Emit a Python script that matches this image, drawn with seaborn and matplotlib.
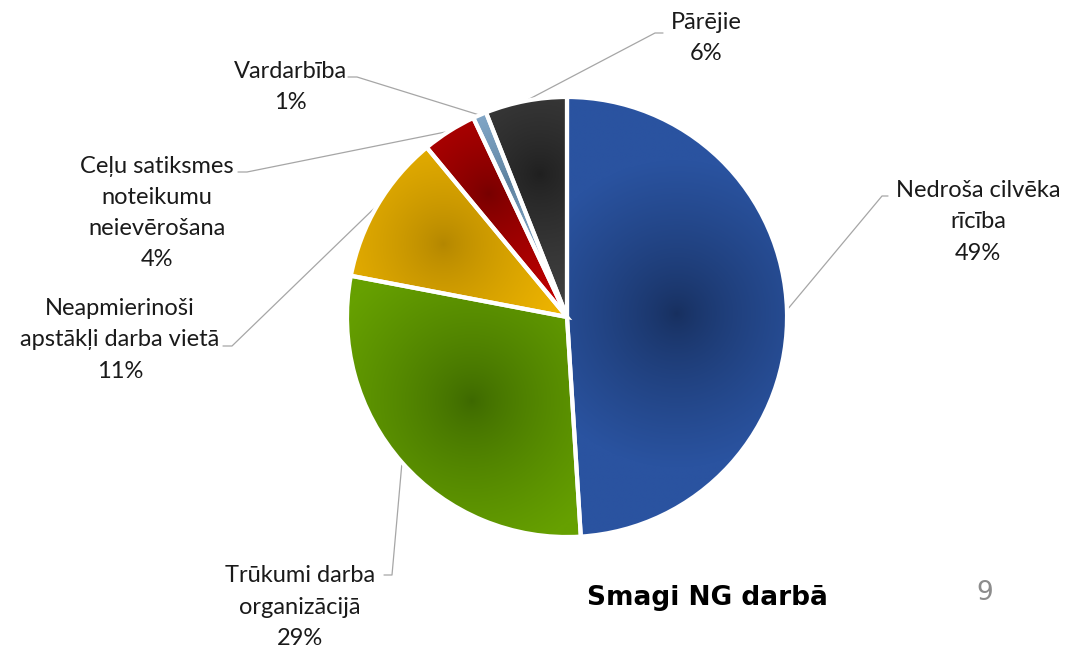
# Smagi NG darbā - pie chart with shaded slices
import numpy as np
import matplotlib
matplotlib.use("Agg")
import matplotlib.pyplot as plt
import seaborn as sns
from matplotlib.colors import LinearSegmentedColormap

# data
categories = ["Nedroša cilvēka\nrīcība", "Trūkumi darba\norganizācijā",
              "Neapmierinoši\napstākļi darba vietā", "Ceļu satiksmes\nnoteikumu\nneievērošana",
              "Vardarbība", "Pārējie"]
shares = [49, 29, 11, 4, 1, 6]

# colours: (edge/light, centre/dark)
light = ["#2a53a0", "#66a000", "#f5ba00", "#cc0000", "#9dc3e6", "#454545"]
dark = ["#172f5e", "#3d6800", "#b38600", "#760000", "#5b7f9c", "#1f1f1f"]

# label layout in pixels from top-left: text centre, elbow, end of leader
W, H = 1065, 647
text_pos = [(978, 222), (300, 607), (120, 340), (157, 213), (290, 87), (706, 38)]
elbow_pos = [(882, 196), (392, 575), (232, 346), (247, 172), (357, 77), (655, 33)]
end_pos = [(888, 196), (384, 575), (223, 346), (238, 172), (348, 77), (663, 33)]

sns.set_style("white")
plt.rcParams['font.family'] = ['Lato', 'DejaVu Sans']

fig = plt.figure(figsize=(W / 100, H / 100), dpi=100)
ax = fig.add_axes([0, 0, 1, 1])

cx, cy, R = 567, H - 317, 220
wedges, _ = ax.pie(shares, startangle=90, counterclock=False, radius=R, center=(cx, cy),
                   explode=[0.02, 0, 0, 0, 0, 0], frame=True,
                   wedgeprops=dict(edgecolor='white', linewidth=3))
ax.set_xlim(0, W)
ax.set_ylim(0, H)
ax.set_aspect('equal')
ax.axis('off')

# radial shading for each slice
gx = np.linspace(cx - R - 10, cx + R + 10, 500)
gy = np.linspace(cy - R - 10, cy + R + 10, 500)
XX, YY = np.meshgrid(gx, gy)
for i, w in enumerate(wedges):
    t1, t2 = np.radians(w.theta1), np.radians(w.theta2)
    half = (t2 - t1) / 2
    mid = (t1 + t2) / 2
    dist = 2 * R * np.sin(half) / (3 * half)
    dist = max(dist, 0.5 * R)
    wx, wy = w.center
    px, py = wx + dist * np.cos(mid), wy + dist * np.sin(mid)
    d = np.hypot(XX - px, YY - py)
    t = np.clip(d / (0.7 * R), 0, 1) ** 0.75
    cmap = LinearSegmentedColormap.from_list("c%d" % i, [dark[i], light[i]])
    im = ax.imshow(t, cmap=cmap, vmin=0, vmax=1, origin='lower',
                   extent=(gx[0], gx[-1], gy[0], gy[-1]), zorder=1, interpolation='bilinear')
    im.set_clip_path(w)
    w.set_facecolor('none')
    w.set_zorder(2)
ax.set_xlim(0, W)
ax.set_ylim(0, H)

# labels with leader lines
for i, w in enumerate(wedges):
    mid = np.radians((w.theta1 + w.theta2) / 2)
    wx, wy = w.center
    sx, sy = wx + R * np.cos(mid), wy + R * np.sin(mid)
    ex, ey = elbow_pos[i]
    fx, fy = end_pos[i]
    ax.plot([sx, ex, fx], [sy, H - ey, H - fy], color='#a6a6a6', lw=0.9, zorder=0)
    tx, ty = text_pos[i]
    ax.text(tx, H - ty, f"{categories[i]}\n{shares[i]}%", ha='center', va='center',
            fontsize=17, linespacing=1.6, color='#1a1a1a')

fig.text(707 / W, 1 - 598 / H, "Smagi NG darbā", ha='center', va='center',
         fontsize=19, fontweight='bold', family='DejaVu Sans', color='black')
fig.text(985 / W, 1 - 593 / H, "9", ha='center', va='center',
         fontsize=19, family='DejaVu Sans', color='#8c8c8c')

fig.savefig("out.png", dpi=100)
